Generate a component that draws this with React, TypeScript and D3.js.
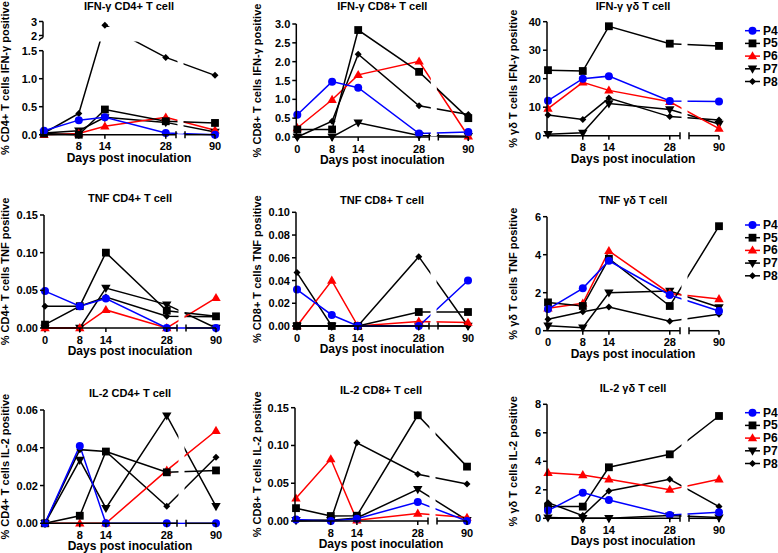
import React from 'react';
import * as d3 from 'd3';

const W = 778;
const H = 553;
const FONT = '"Liberation Sans", Arial, Helvetica, sans-serif';

const days = [0, 8, 14, 28, 90];
const patients = ['P4', 'P5', 'P6', 'P7', 'P8'];
const colors = ['#0000ff', '#000000', '#ff0000', '#000000', '#000000'];
const shapes = ['circle', 'square', 'triangle', 'triangleDown', 'diamond'];

// rows: P4, P5, P6, P7, P8 ; columns: days 0, 8, 14, 28, 90
const ifngCD4 = [
  [0.07, 0.26, 0.31, 0.03, 0.0],
  [0.02, 0.0, 0.45, 0.24, 0.21],
  [0.0, 0.02, 0.15, 0.31, 0.08],
  [0.03, 0.07, 0.31, 0.22, 0.05],
  [0.03, 0.38, 2.74, 1.38, 1.06],
];
const ifngCD8 = [
  [0.59, 1.47, 1.31, 0.09, 0.13],
  [0.2, 0.2, 2.84, 1.73, 0.5],
  [0.24, 0.99, 1.65, 2.01, 0.02],
  [0.0, 0.0, 0.38, 0.04, 0.02],
  [0.0, 0.42, 2.2, 0.83, 0.6],
];
const ifngGD = [
  [12.3, 20.0, 20.9, 12.2, 12.0],
  [23.0, 22.7, 38.4, 32.3, 31.5],
  [9.5, 18.7, 15.9, 11.9, 2.5],
  [0.5, 1.0, 11.3, 9.2, 4.1],
  [7.3, 5.7, 13.2, 6.7, 5.5],
];
const tnfCD4 = [
  [0.049, 0.029, 0.039, 0.0, 0.0],
  [0.0045, 0.029, 0.1, 0.023, 0.0155],
  [0.0, 0.0, 0.024, 0.0, 0.04],
  [0.0, 0.0, 0.053, 0.031, 0.0],
  [0.029, 0.029, 0.041, 0.0155, 0.015],
];
const tnfCD8 = [
  [0.032, 0.0097, 0.0, 0.0, 0.04],
  [0.0, 0.0, 0.0, 0.0123, 0.0123],
  [0.0, 0.04, 0.0, 0.004, 0.003],
  [0.0, 0.0, 0.0, 0.0, 0.0],
  [0.047, 0.0, 0.0, 0.061, 0.0],
];
const tnfGD = [
  [1.14, 2.23, 3.68, 1.88, 1.04],
  [1.49, 1.3, 3.79, 1.3, 5.5],
  [1.18, 1.44, 4.2, 1.96, 1.67],
  [0.26, 0.16, 2.0, 2.09, 1.23],
  [0.6, 1.0, 1.25, 0.5, 0.86],
];
const il2CD4 = [
  [0.0, 0.041, 0.0, 0.0, 0.0],
  [0.0, 0.004, 0.038, 0.027, 0.028],
  [0.0, 0.0, 0.0, 0.028, 0.049],
  [0.0, 0.0335, 0.008, 0.057, 0.009],
  [0.0, 0.039, 0.038, 0.009, 0.035],
];
const il2CD8 = [
  [0.002, 0.0, 0.003, 0.025, 0.0],
  [0.017, 0.0066, 0.007, 0.14, 0.072],
  [0.03, 0.082, 0.001, 0.01, 0.0045],
  [0.001, 0.001, 0.004, 0.042, 0.001],
  [0.0, 0.001, 0.1035, 0.062, 0.049],
];
const il2GD = [
  [0.54, 1.8, 1.29, 0.23, 0.42],
  [0.82, 0.82, 3.58, 4.49, 7.18],
  [3.2, 3.04, 2.74, 2.01, 2.74],
  [0.05, 0.0, 0.0, 0.19, 0.05],
  [1.1, 0.19, 1.92, 2.74, 0.82],
];

const titles = [
  'IFN-γ CD4+ T cell', 'IFN-γ CD8+ T cell', 'IFN-γ γδ T cell',
  'TNF CD4+ T cell', 'TNF CD8+ T cell', 'TNF γδ T cell',
  'IL-2 CD4+ T cell', 'IL-2 CD8+ T cell', 'IL-2 γδ T cell',
];
const yTitles = [
  '% CD4+ T cells IFN-γ positive', '% CD8+ T cells IFN-γ positive', '% γδ T cells IFN-γ positive',
  '% CD4+ T cells TNF positive', '% CD8+ T cells TNF positive', '% γδ T cells TNF positive',
  '% CD4+ T cells IL-2 positive', '% CD8+ T cells IL-2 positive', '% γδ T cells IL-2 positive',
];
const yTicks = [
  [0, 0.5, 1.0, 1.5],
  [0, 0.5, 1.0, 1.5, 2.0, 2.5, 3.0],
  [0, 10, 20, 30, 40],
  [0, 0.05, 0.1, 0.15],
  [0, 0.02, 0.04, 0.06, 0.08, 0.1],
  [0, 2, 4, 6],
  [0, 0.02, 0.04, 0.06],
  [0, 0.05, 0.1, 0.15],
  [0, 2, 4, 6, 8],
];
const yDecimals = [1, 1, 0, 2, 2, 0, 2, 2, 0];
const upperTicks = [2, 3];
const datasets = [ifngCD4, ifngCD8, ifngGD, tnfCD4, tnfCD8, tnfGD, il2CD4, il2CD8, il2GD];

// layout (pixels)
const layout = [
  { x0: 43, base: 134.7, top: 50.7, titleY: 6, yTitleX: 5, show0: false },
  { x0: 296.3, base: 137, top: 24, titleY: 6, yTitleX: 257, show0: true },
  { x0: 547, base: 135.7, top: 21.7, titleY: 6, yTitleX: 513, show0: false },
  { x0: 44, base: 328, top: 215, titleY: 198, yTitleX: 5, show0: true },
  { x0: 296, base: 326, top: 212.3, titleY: 200, yTitleX: 257, show0: true },
  { x0: 547, base: 330.7, top: 216.7, titleY: 200, yTitleX: 513, show0: true },
  { x0: 44, base: 523.3, top: 410, titleY: 393, yTitleX: 5, show0: false },
  { x0: 295, base: 521, top: 407.7, titleY: 390, yTitleX: 257, show0: false },
  { x0: 547, base: 518.3, top: 404.3, titleY: 388, yTitleX: 513, show0: false },
];
const legendY = [30.7, 225, 412.7];
const legendStep = 12.7;

function Marker({ shape, color, x, y }: { shape: string; color: string; x: number; y: number }) {
  const t = `translate(${x},${y})`;
  if (shape === 'circle') return <circle cx={x} cy={y} r={4} fill={color} />;
  if (shape === 'square') return <rect x={x - 3.9} y={y - 3.9} width={7.8} height={7.8} fill={color} />;
  if (shape === 'triangle') return <path transform={t} d="M0,-4.9L4.7,3.2L-4.7,3.2Z" fill={color} />;
  if (shape === 'triangleDown') return <path transform={t} d="M0,4.9L4.7,-3.2L-4.7,-3.2Z" fill={color} />;
  return <path transform={t} d="M0,-3.5L3.5,0L0,3.5L-3.5,0Z" fill={color} />;
}

function Panel({ idx }: { idx: number }) {
  const L = layout[idx];
  const data = datasets[idx];
  const x0 = L.x0;
  const seg1 = d3.scaleLinear().domain([0, 30.35]).range([x0 + 1, x0 + 133]);
  const seg2 = d3.scaleLinear().domain([83.1, 90]).range([x0 + 142, x0 + 172]);
  const xPos = (d: number) => (d <= 31 ? seg1(d) : seg2(d));
  const segEnd = x0 + 133;
  const segStart = x0 + 142;
  const broken = idx === 0;
  const yMax = yTicks[idx][yTicks[idx].length - 1];
  const lower = d3.scaleLinear().domain([0, yMax]).range([L.base, L.top]);
  const upper = d3.scaleLinear().domain([2, 3]).range([35.5, 21.5]);
  const yPos = (v: number) => (broken && v > 1.7 ? upper(v) : lower(v));
  const line = d3.line<[number, number]>().x((p) => p[0]).y((p) => p[1]);
  const fmt = d3.format(`.${yDecimals[idx]}f`);
  const plotTop = broken ? 21.5 : L.top;
  const cx = x0 + 86;
  const order = [4, 3, 2, 1, 0];
  const tickStyle = { fontFamily: FONT, fontWeight: 700, fontSize: 11 } as const;

  return (
    <g>
      {order.map((s) => (
        <path
          key={'l' + s}
          d={line(days.map((d, i) => [xPos(d), yPos(data[s][i])] as [number, number])) || ''}
          fill="none"
          stroke={colors[s]}
          strokeWidth={1.5}
        />
      ))}
      <rect x={segEnd + 1.5} y={plotTop - 8} width={segStart - segEnd - 3} height={L.base - plotTop + 7} fill="#fff" />
      {broken && <rect x={x0 + 1} y={27} width={178} height={14.5} fill="#fff" />}
      {order.map((s) =>
        days.map((d, i) => (
          <Marker key={`m${s}-${i}`} shape={shapes[s]} color={colors[s]} x={xPos(d)} y={yPos(data[s][i])} />
        ))
      )}
      <g stroke="#000" strokeWidth={1.5}>
        <line x1={x0} x2={x0} y1={L.base} y2={L.top} />
        {yTicks[idx].map((t) => (
          <line key={'yt' + t} x1={x0 - 4} x2={x0} y1={lower(t)} y2={lower(t)} />
        ))}
        {broken && (
          <>
            <line x1={x0} x2={x0} y1={upper(3)} y2={37.5} />
            {upperTicks.map((t) => (
              <line key={'ut' + t} x1={x0 - 4} x2={x0} y1={upper(t)} y2={upper(t)} />
            ))}
            <path d={`M${x0},37.5 q-3,1 -4,3`} fill="none" />
          </>
        )}
        <line x1={x0} x2={segEnd} y1={L.base} y2={L.base} />
        <line x1={segStart} x2={xPos(90)} y1={L.base} y2={L.base} />
        {[8, 14, 28, 90].map((d) => (
          <line key={'xt' + d} x1={xPos(d)} x2={xPos(d)} y1={L.base} y2={L.base + 4} />
        ))}
        <line x1={segEnd} x2={segEnd} y1={L.base - 3.5} y2={L.base + 3.5} />
        <line x1={segStart} x2={segStart} y1={L.base - 3.5} y2={L.base + 3.5} />
      </g>
      {yTicks[idx].map((t) => (
        <text key={'yl' + t} x={x0 - 6} y={lower(t)} textAnchor="end" dominantBaseline="central" style={tickStyle}>
          {fmt(t)}
        </text>
      ))}
      {broken &&
        upperTicks.map((t) => (
          <text key={'ul' + t} x={x0 - 6} y={upper(t)} textAnchor="end" dominantBaseline="central" style={tickStyle}>
            {String(t)}
          </text>
        ))}
      {(L.show0 ? [0, 8, 14, 28, 90] : [8, 14, 28, 90]).map((d) => (
        <text key={'xl' + d} x={xPos(d)} y={L.base + 11.5} textAnchor="middle" dominantBaseline="central" style={tickStyle}>
          {String(d)}
        </text>
      ))}
      <text x={cx} y={L.base + 23} textAnchor="middle" dominantBaseline="central"
        style={{ fontFamily: FONT, fontWeight: 700, fontSize: 12 }}>
        Days post inoculation
      </text>
      <text x={cx} y={L.titleY} textAnchor="middle" dominantBaseline="central"
        style={{ fontFamily: FONT, fontWeight: 700, fontSize: 11 }}>
        {titles[idx]}
      </text>
      <text
        transform={`translate(${L.yTitleX},${(L.base + plotTop) / 2}) rotate(-90)`}
        textAnchor="middle"
        dominantBaseline="central"
        style={{ fontFamily: FONT, fontWeight: 700, fontSize: 11 }}
      >
        {yTitles[idx]}
      </text>
    </g>
  );
}

function Legend({ y0 }: { y0: number }) {
  return (
    <g>
      {patients.map((p, i) => {
        const y = y0 + i * legendStep;
        return (
          <g key={p}>
            <line x1={745} x2={760} y1={y} y2={y} stroke={colors[i]} strokeWidth={1.5} />
            <Marker shape={shapes[i]} color={colors[i]} x={752.5} y={y} />
            <text x={763} y={y} dominantBaseline="central" style={{ fontFamily: FONT, fontWeight: 700, fontSize: 12 }}>
              {p}
            </text>
          </g>
        );
      })}
    </g>
  );
}

export default function App() {
  return (
    <svg width={W} height={H} style={{ position: 'absolute', left: 0, top: 0, background: '#fff' }}>
      <rect width={W} height={H} fill="#fff" />
      {layout.map((_, i) => (
        <Panel key={i} idx={i} />
      ))}
      {legendY.map((y) => (
        <Legend key={y} y0={y} />
      ))}
    </svg>
  );
}
